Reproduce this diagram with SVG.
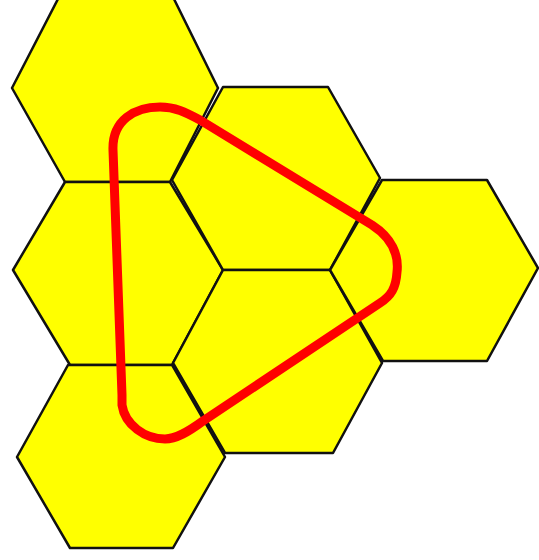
<svg xmlns="http://www.w3.org/2000/svg" width="539" height="560" viewBox="0 0 539 560">
<style>
.hex{fill:#ffff00;stroke:#111111;stroke-width:2.5;stroke-linejoin:round}
.loop{fill:none;stroke:#ff0000;stroke-width:9;stroke-linejoin:round}
</style>
<rect width="539" height="560" fill="#ffffff"/>
<g id="hex-top-left"><polygon class="hex" points="59,-3 173,-3 218,88 170,182 65,182 12,88"/></g>
<g id="hex-mid-left"><polygon class="hex" points="65,182 170,182 223,270 172,365 70,365 13,270"/></g>
<g id="hex-bottom-left"><polygon class="hex" points="68,365 172,365 225,457 173,548 70,548 17,457"/></g>
<g id="hex-top-middle"><polygon class="hex" points="223,87 328,87 380,178 330,270 223,270 172,180"/></g>
<g id="hex-bottom-middle"><polygon class="hex" points="223,270 330,270 382,363 333,453 225,453 173,363"/></g>
<g id="hex-right"><polygon class="hex" points="382,180 487,180 538,268 487,361 383,361 330,270"/></g>
<g id="connectors">
<path class="loop" d="M 122 395 L 113 150 C 112 120, 135 107, 160 107 C 175 107, 185 112, 200 120 L 372 225 C 392 238, 399 255, 397 272 C 396 288, 391 296, 380 303 L 203 421 C 188 432, 176 439, 165 439 C 145 439, 125 425, 122 405 Z"/>
</g>
</svg>
